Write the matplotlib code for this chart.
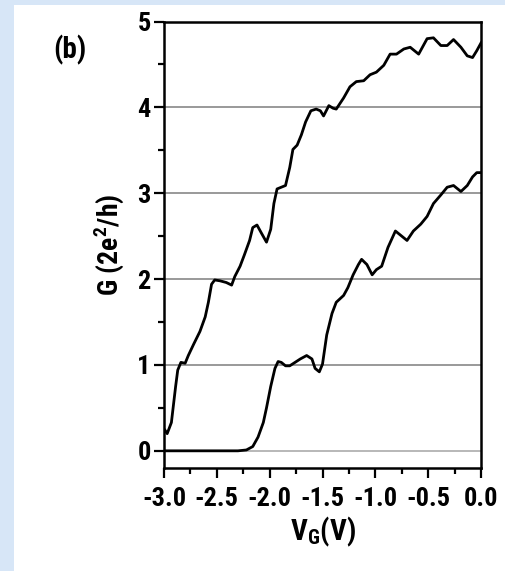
import matplotlib
matplotlib.use("Agg")
import matplotlib.pyplot as plt
from matplotlib.patches import Rectangle

# Upper (left) curve: gate voltage (V) and conductance (2e^2/h)
vg_upper = [-2.99, -2.97, -2.93, -2.89, -2.87, -2.84, -2.80, -2.77, -2.72, -2.66,
            -2.61, -2.58, -2.55, -2.52, -2.47, -2.41, -2.36, -2.33, -2.28, -2.24,
            -2.19, -2.16, -2.12, -2.08, -2.03, -1.99, -1.96, -1.93, -1.89, -1.85,
            -1.81, -1.78, -1.74, -1.70, -1.66, -1.61, -1.56, -1.52, -1.49, -1.44,
            -1.40, -1.37, -1.30, -1.24, -1.18, -1.11, -1.05, -0.99, -0.92, -0.86,
            -0.80, -0.73, -0.67, -0.59, -0.51, -0.45, -0.38, -0.32, -0.26, -0.19,
            -0.13, -0.08, -0.04, 0.00]
g_upper = [0.24, 0.20, 0.33, 0.75, 0.94, 1.03, 1.02, 1.11, 1.24, 1.39,
           1.56, 1.73, 1.94, 1.99, 1.98, 1.96, 1.93, 2.03, 2.15, 2.28,
           2.45, 2.60, 2.63, 2.54, 2.43, 2.58, 2.88, 3.05, 3.07, 3.09,
           3.30, 3.51, 3.56, 3.68, 3.83, 3.96, 3.98, 3.96, 3.90, 4.02,
           3.99, 3.98, 4.11, 4.24, 4.30, 4.31, 4.38, 4.41, 4.49, 4.62,
           4.62, 4.68, 4.70, 4.62, 4.80, 4.81, 4.72, 4.72, 4.79, 4.70,
           4.60, 4.58, 4.66, 4.75]

# Lower (right) curve
vg_lower = [-3.00, -2.60, -2.30, -2.22, -2.16, -2.11, -2.06, -2.03, -1.99, -1.95,
            -1.92, -1.89, -1.85, -1.81, -1.76, -1.71, -1.65, -1.60, -1.57, -1.53,
            -1.50, -1.46, -1.41, -1.37, -1.30, -1.26, -1.21, -1.16, -1.13, -1.08,
            -1.03, -0.99, -0.94, -0.88, -0.81, -0.76, -0.70, -0.64, -0.57, -0.51,
            -0.45, -0.38, -0.32, -0.26, -0.19, -0.13, -0.08, -0.04, 0.00]
g_lower = [0.00, 0.00, 0.00, 0.01, 0.05, 0.16, 0.33, 0.50, 0.75, 0.96,
           1.04, 1.03, 0.99, 0.99, 1.03, 1.07, 1.11, 1.07, 0.96, 0.92,
           1.01, 1.35, 1.60, 1.73, 1.81, 1.90, 2.05, 2.17, 2.23, 2.17,
           2.05, 2.11, 2.15, 2.37, 2.56, 2.51, 2.45, 2.56, 2.64, 2.73,
           2.88, 2.98, 3.07, 3.09, 3.02, 3.09, 3.19, 3.24, 3.24]

x_ticks = [-3.0, -2.5, -2.0, -1.5, -1.0, -0.5, 0.0]
x_tick_labels = ["-3.0", "-2.5", "-2.0", "-1.5", "-1.0", "-0.5", "0.0"]
y_ticks = [0, 1, 2, 3, 4, 5]
plateaus = [0, 1, 2, 3, 4]

FONT = ["Roboto Condensed", "Barlow Semi Condensed", "Liberation Sans"]
plt.rcParams["font.family"] = FONT
plt.rcParams["font.weight"] = "bold"

W, H = 506, 571
fig = plt.figure(figsize=(W / 100, H / 100), dpi=100)
fig.patch.set_facecolor("#d7e6f7")
fig.patches.append(Rectangle((14 / W, 0), 1 - 14 / W, 1 - 5 / H,
                             transform=fig.transFigure, facecolor="white",
                             edgecolor="none", zorder=-10))

ax = fig.add_axes([164 / W, 1 - 468 / H, (481 - 164) / W, (468 - 21.5) / H])
ax.set_facecolor("white")
ax.set_zorder(5)

for p in plateaus:
    ax.axhline(p, color="#999999" if p else "#b8b8b8", lw=1.4, zorder=1)

ax.plot(vg_upper, g_upper, color="black", lw=2.0, zorder=3)
ax.plot(vg_lower, g_lower, color="black", lw=2.0, zorder=3)

ax.set_xlim(-3.0, 0.0)
ax.set_ylim(-0.2, 5.0)

ax.set_xticks(x_ticks)
ax.set_xticklabels(x_tick_labels)
ax.set_xticks([-2.75, -2.25, -1.75, -1.25, -0.75, -0.25], minor=True)
ax.set_yticks(y_ticks)
ax.set_yticks([0.5, 1.5, 2.5, 3.5, 4.5], minor=True)

ax.tick_params(axis="both", which="major", direction="out", length=7.5, width=1.6,
               labelsize=19)
ax.tick_params(axis="x", which="major", pad=6)
ax.tick_params(axis="y", which="major", pad=2)
ax.tick_params(axis="both", which="minor", direction="out", length=4.5, width=1.6)
ax.tick_params(top=False, right=False, which="both")
for lab in ax.get_xticklabels() + ax.get_yticklabels():
    lab.set_fontweight("bold")

for s in ax.spines.values():
    s.set_linewidth(1.8)

ax.set_xlabel(r"V$_\mathregular{G}$(V)", fontsize=21, fontweight="bold", labelpad=3)
ax.set_ylabel(r"G (2e$^\mathregular{2}$/h)", fontsize=20, fontweight="bold",
              labelpad=8)

fig.text(70 / W, 1 - 50 / H, "(b)", fontsize=21, fontweight="bold",
         ha="center", va="center", zorder=6)

fig.savefig("out.png", dpi=100, facecolor=fig.get_facecolor())
